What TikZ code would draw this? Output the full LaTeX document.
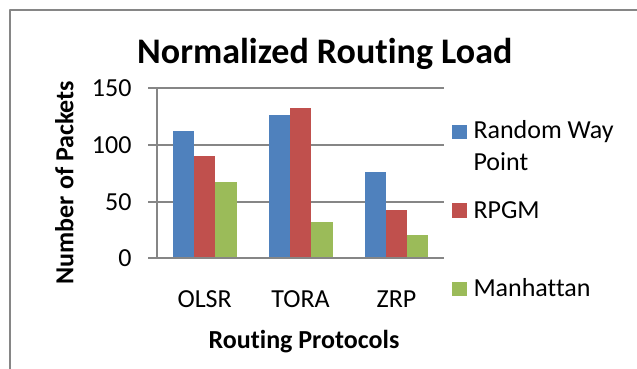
\documentclass[tikz,border=0pt]{standalone}
\usepackage{fontspec}
\setmainfont{Carlito}[Ligatures=NoCommon]
\definecolor{rwp}{HTML}{4F81BD}
\definecolor{rpgm}{HTML}{C0504D}
\definecolor{manh}{HTML}{9BBB59}
\definecolor{grd}{HTML}{868686}
\begin{document}
\begin{tikzpicture}[x=1pt,y=-1pt,line join=round,font=\fontsize{26}{30}\selectfont,
  declare function={py(\v)=258.3-1.1333*(\v);},
  grid/.style={draw=grd,line width=2pt},
  lab/.style={inner sep=0pt}]
\def\bw{21.3}  % bar width
\def\cw{95.9}  % category width
\def\xo{156.7} % y axis
\useasboundingbox (0,0) rectangle (637,369);
% frame
\draw[grid] (9.5,369)--(9.5,10)--(637,10);
% grid and ticks
\foreach \v in {50,100,150} \draw[grid] (148,{py(\v)})--(444.3,{py(\v)});
\foreach \v in {0,50,100,150} \node[lab,anchor=base east] (t\v) at (131.7,{py(\v)+8.4}) {\v};
% bars
\foreach \c/\va/\vb/\vc [count=\i] in {OLSR/112.5/90.3/67.3,TORA/126.2/132.9/32.3,ZRP/75.9/42.6/20.6} {
  \pgfmathsetmacro\m{\xo+\cw*(\i-0.5)}
  \fill[rwp] (\m-1.5*\bw,{py(0)}) rectangle (\m-0.5*\bw,{py(\va)});
  \fill[rpgm] (\m-0.5*\bw,{py(0)}) rectangle (\m+0.5*\bw,{py(\vb)});
  \fill[manh] (\m+0.5*\bw,{py(0)}) rectangle (\m+1.5*\bw,{py(\vc)});
  \node[lab,anchor=base] (c\i) at (\m,307.7) {\c};
}
\draw[grid] (148,{py(0)})--(444.3,{py(0)});
\draw[grid] (\xo,{py(0)})--(\xo,{py(150)});
% titles
\node[lab,anchor=base,font=\fontsize{36}{42}\selectfont\bfseries] (title) at (324.7,63.3) {Normalized Routing Load};
\node[lab,anchor=base,font=\fontsize{26}{30}\selectfont\bfseries] (xtitle) at (304,348.3) {Routing Protocols};
\node[lab,anchor=base,rotate=90,font=\fontsize{26}{30}\selectfont\bfseries] (ytitle) at (73.3,182.5) {Number of Packets};
% legend
\foreach \col/\y in {rwp/125,rpgm/203.3,manh/281.7} \fill[\col] (452.3,\y) rectangle +(14.4,14.4);
\node[lab,anchor=base west] (l1) at (473.3,138.3) {Random Way};
\node[lab,anchor=base west] (l1b) at (473.3,170) {Point};
\node[lab,anchor=base west] (l2) at (473.3,218.3) {RPGM};
\node[lab,anchor=base west] (l3) at (473.3,296) {Manhattan};
\end{tikzpicture}
\end{document}
